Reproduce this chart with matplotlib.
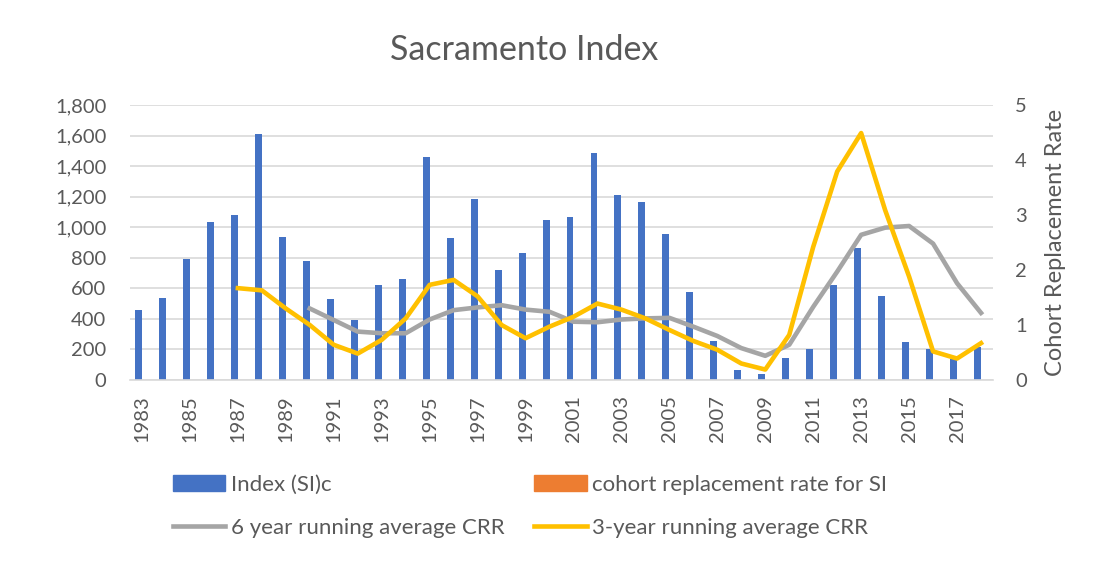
import matplotlib.pyplot as plt
from matplotlib.patches import Patch
from matplotlib.lines import Line2D
import numpy as np

plt.rcParams["font.family"] = ["Lato", "DejaVu Sans"]

years = list(range(1983, 2019))
index_si = [458, 535, 790, 1032, 1082, 1612, 936, 777, 530, 393, 620, 663,
            1460, 932, 1187, 718, 831, 1047, 1067, 1488, 1211, 1163, 953, 574,
            253, 68, 37, 146, 203, 624, 866, 548, 251, 201, 135, 218]
# cohort replacement rate for SI: no visible bars in the chart
crr_si = []
# 6 year running average CRR (1990-2018)
avg6_years = list(range(1990, 2019))
avg6 = [1.30, 1.09, 0.88, 0.85, 0.85, 1.10, 1.27, 1.32, 1.36, 1.28, 1.24,
        1.06, 1.05, 1.10, 1.12, 1.13, 0.97, 0.80, 0.58, 0.44, 0.64, 1.33,
        1.97, 2.64, 2.77, 2.80, 2.48, 1.76, 1.22]
# 3-year running average CRR (1987-2018)
avg3_years = list(range(1987, 2019))
avg3 = [1.67, 1.63, 1.30, 1.00, 0.64, 0.48, 0.73, 1.12, 1.73, 1.82, 1.52,
        1.00, 0.76, 0.97, 1.15, 1.39, 1.28, 1.12, 0.91, 0.71, 0.55, 0.30,
        0.19, 0.82, 2.42, 3.79, 4.49, 3.09, 1.88, 0.52, 0.39, 0.67]

txt = "#595959"
fig = plt.figure(figsize=(10.96, 5.62), dpi=100)
ax = fig.add_axes([130 / 1096, 182 / 562, 863 / 1096, 275 / 562])
# clustered bars: blue sits left of the category centre, the (empty) orange series right
ax.bar(np.array(years) - 0.145, index_si, width=0.29, color="#4472C4", zorder=2)
ax.bar(np.array(years[:len(crr_si)]) + 0.145, crr_si, width=0.29, color="#ED7D31", zorder=2)
ax.set_ylim(0, 1800)
ax.set_yticks(range(0, 1801, 200))
ax.set_yticklabels([f"{v:,}" for v in range(0, 1801, 200)])
ax.set_xlim(years[0] - 0.5, years[-1] + 0.5)
ax.set_xticks(years[::2])
ax.set_xticklabels([str(y) for y in years[::2]], rotation=90)
ax.grid(axis="y", color="#D9D9D9", linewidth=1.2, zorder=0)
for s in ["top", "right", "left"]:
    ax.spines[s].set_visible(False)
ax.spines["bottom"].set_color("#D9D9D9")
ax.spines["bottom"].set_linewidth(1.2)
ax.tick_params(axis="both", length=0, labelsize=14.5, colors=txt)
ax.tick_params(axis="y", pad=17)
ax.tick_params(axis="x", pad=11)

ax2 = ax.twinx()
ax2.plot(avg6_years, avg6, color="#A5A5A5", linewidth=3.3, zorder=3)
ax2.plot(avg3_years, avg3, color="#FFC000", linewidth=3.3, zorder=4)
ax2.set_ylim(0, 5)
ax2.set_yticks(range(0, 6))
for s in ax2.spines.values():
    s.set_visible(False)
ax2.tick_params(axis="y", length=0, labelsize=14.5, colors=txt, pad=16)
ax2.set_ylabel("Cohort Replacement Rate", fontsize=17, color=txt, labelpad=13)

fig.text(0.478, 1 - 50 / 562, "Sacramento Index", ha="center", va="center",
         fontsize=24.5, color=txt)

handles = [Patch(color="#4472C4"),
           Line2D([], [], color="#A5A5A5", linewidth=3.3),
           Patch(color="#ED7D31"),
           Line2D([], [], color="#FFC000", linewidth=3.3)]
labels = ["Index (SI)c", "6 year running average CRR",
          "cohort replacement rate for SI", "3-year running average CRR"]
leg = fig.legend(handles, labels, ncol=2, loc="center left",
                 bbox_to_anchor=(173 / 1096, 1 - 506.5 / 562),
                 frameon=False, fontsize=16, handlelength=2.35, handletextpad=0.25,
                 columnspacing=1.35, labelspacing=1.05, labelcolor=txt,
                 borderpad=0, borderaxespad=0)

fig.savefig("out.png", dpi=100)
